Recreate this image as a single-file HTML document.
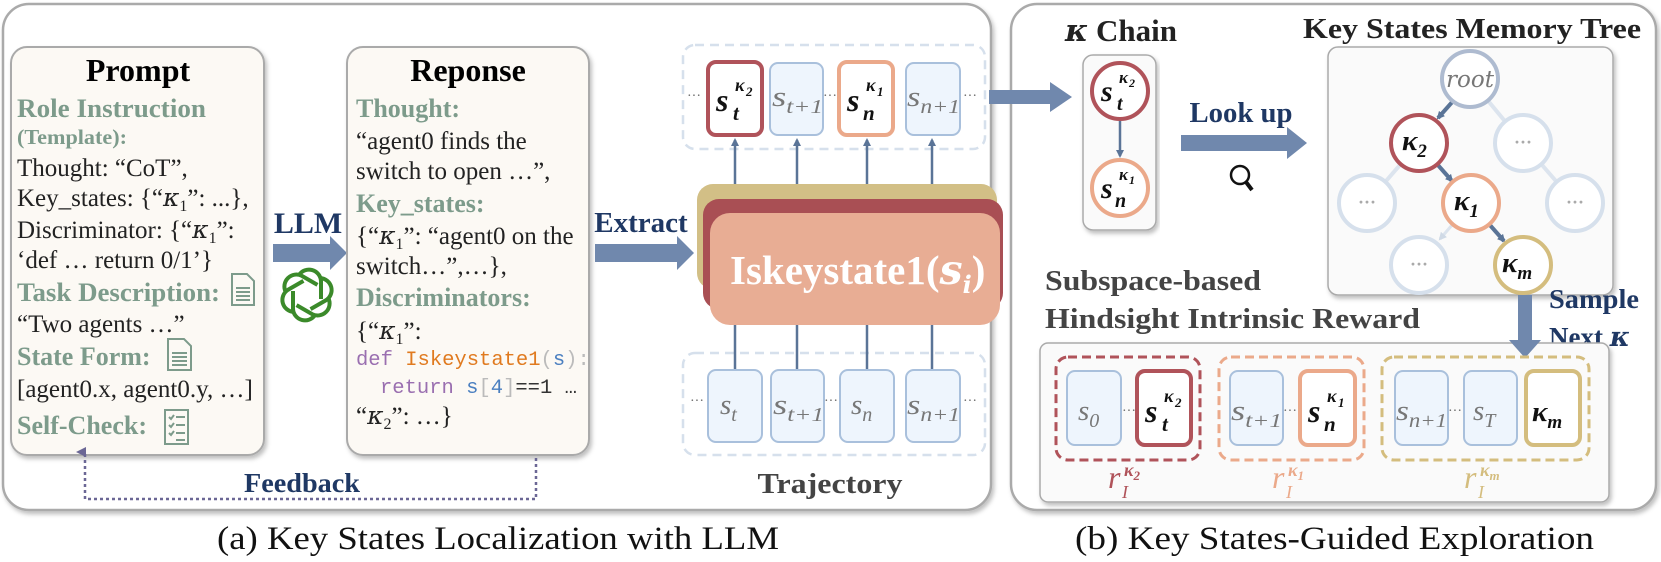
<!DOCTYPE html>
<html><head><meta charset="utf-8"><style>
html,body{margin:0;padding:0;background:#fff;}
svg{display:block;}
text{font-family:"Liberation Serif",serif;}
.m{font-family:"DejaVu Serif","Liberation Serif",serif;font-style:italic;}
.mono{font-family:"Liberation Mono",monospace;}
</style></head><body>
<svg width="1661" height="562" viewBox="0 0 1661 562" xmlns="http://www.w3.org/2000/svg">
<defs>
<filter id="sh" x="-5%" y="-5%" width="110%" height="115%"><feDropShadow dx="2" dy="3" stdDeviation="2" flood-color="#000" flood-opacity="0.25"/></filter>
<marker id="ah" markerWidth="8" markerHeight="8" refX="6" refY="4" orient="auto" markerUnits="userSpaceOnUse"><path d="M0,0 L8,4 L0,8 Z" fill="#5a7497"/></marker>
<marker id="ahl" markerWidth="8" markerHeight="8" refX="6" refY="4" orient="auto" markerUnits="userSpaceOnUse"><path d="M0,0 L8,4 L0,8 Z" fill="#d0dae6"/></marker>
<marker id="ahp" markerWidth="10" markerHeight="10" refX="5" refY="9" orient="auto" markerUnits="userSpaceOnUse"><path d="M0,10 L5,0 L10,10 Z" fill="#6b6795"/></marker>
</defs>

<rect x="3" y="4" width="988" height="506" rx="26" fill="#fff" stroke="#aaa" stroke-width="2.5" filter="url(#sh)"/>
<rect x="1011" y="4" width="645" height="506" rx="26" fill="#fff" stroke="#aaa" stroke-width="2.5" filter="url(#sh)"/>

<rect x="11" y="47" width="253" height="408" rx="16" fill="#fcf9f4" stroke="#aaa" stroke-width="2" filter="url(#sh)"/>
<text x="138" y="81" font-size="32" font-weight="bold" text-anchor="middle">Prompt</text>
<g font-size="26" font-weight="bold" fill="#7d9b8b">
<text x="17" y="117" textLength="189" lengthAdjust="spacingAndGlyphs">Role Instruction</text>
<text x="17" y="144" font-size="21" textLength="110" lengthAdjust="spacingAndGlyphs">(Template):</text>
<text x="17" y="301" textLength="203" lengthAdjust="spacingAndGlyphs">Task Description:</text>
<text x="17" y="365">State Form:</text>
<text x="17" y="434">Self-Check:</text>
</g>
<g font-size="25" fill="#222">
<text x="17" y="176">Thought: “CoT”,</text>
<text x="17" y="206">Key_states: {“<tspan class="m">κ</tspan><tspan font-size="16" dy="5">1</tspan><tspan dy="-5">”: ...},</tspan></text>
<text x="17" y="238">Discriminator: {“<tspan class="m">κ</tspan><tspan font-size="16" dy="5">1</tspan><tspan dy="-5">”:</tspan></text>
<text x="17" y="268">‘def … return 0/1’}</text>
<text x="17" y="332">“Two agents …”</text>
<text x="17" y="397">[agent0.x, agent0.y, …]</text>
</g>
<g fill="none" stroke="#7d9b8b" stroke-width="2">
<path d="M232,274 h15 l7,7 v24 h-22 Z"/><path d="M236,288 h14 M236,292 h14 M236,296 h14 M236,300 h14"/>
<path d="M168,339 h16 l7,7 v24 h-23 Z"/><path d="M172,353 h15 M172,357 h15 M172,361 h15 M172,365 h15"/>
<rect x="165" y="410" width="23" height="34"/><path d="M169,417 l2,2 l3,-4 M176,417 h9 M169,425 l2,2 l3,-4 M176,425 h9 M169,433 l2,2 l3,-4 M176,433 h9 M176,440 h9"/>
</g>

<text x="308" y="233" font-size="30" font-weight="bold" fill="#1f3864" text-anchor="middle">LLM</text>
<polygon points="273,244 330,244 330,236 347,253 330,270 330,262 273,262" fill="#7088ad"/>
<g fill="none" stroke="#3b8a2a" stroke-width="4" transform="translate(307,295)">
<path d="M-8,-20 a12,12 0 0 1 22,6 v18"/>
<path d="M-8,-20 a12,12 0 0 1 22,6 v18" transform="rotate(60)"/>
<path d="M-8,-20 a12,12 0 0 1 22,6 v18" transform="rotate(120)"/>
<path d="M-8,-20 a12,12 0 0 1 22,6 v18" transform="rotate(180)"/>
<path d="M-8,-20 a12,12 0 0 1 22,6 v18" transform="rotate(240)"/>
<path d="M-8,-20 a12,12 0 0 1 22,6 v18" transform="rotate(300)"/>
</g>

<rect x="347" y="47" width="242" height="408" rx="16" fill="#fcf9f4" stroke="#aaa" stroke-width="2" filter="url(#sh)"/>
<text x="468" y="81" font-size="32" font-weight="bold" text-anchor="middle">Reponse</text>
<g font-size="26" font-weight="bold" fill="#7d9b8b">
<text x="356" y="117">Thought:</text>
<text x="356" y="212">Key_states:</text>
<text x="356" y="306">Discriminators:</text>
</g>
<g font-size="25" fill="#222">
<text x="356" y="149">“agent0 finds the</text>
<text x="356" y="179">switch to open …”,</text>
<text x="356" y="244">{“<tspan class="m">κ</tspan><tspan font-size="16" dy="5">1</tspan><tspan dy="-5">”: “agent0 on the</tspan></text>
<text x="356" y="274">switch…”,…},</text>
<text x="356" y="339">{“<tspan class="m">κ</tspan><tspan font-size="16" dy="5">1</tspan><tspan dy="-5">”:</tspan></text>
<text x="356" y="424">“<tspan class="m">κ</tspan><tspan font-size="16" dy="5">2</tspan><tspan dy="-5">”: …}</tspan></text>
</g>
<text x="356" y="365" font-size="20.5" class="mono"><tspan fill="#9a6fb0">def</tspan> <tspan fill="#e07a1f">Iskeystate1</tspan><tspan fill="#bbb">(</tspan><tspan fill="#4a7fc0">s</tspan><tspan fill="#bbb">):</tspan></text>
<text x="380" y="393" font-size="20.5" class="mono"><tspan fill="#9a6fb0">return</tspan> <tspan fill="#4a7fc0">s</tspan><tspan fill="#bbb">[</tspan><tspan fill="#4a7fc0">4</tspan><tspan fill="#bbb">]</tspan><tspan fill="#333">==1 …</tspan></text>

<path d="M536,458 V499 H85 V452" fill="none" stroke="#6b6795" stroke-width="2.5" stroke-dasharray="3,3" marker-end="url(#ahp)"/>
<text x="302" y="492" font-size="27" font-weight="bold" fill="#1f3864" text-anchor="middle" textLength="116" lengthAdjust="spacingAndGlyphs">Feedback</text>

<text x="641" y="232" font-size="29" font-weight="bold" fill="#1f3864" text-anchor="middle">Extract</text>
<polygon points="595,244 677,244 677,236 694,253 677,270 677,262 595,262" fill="#7088ad"/>

<rect x="683" y="45" width="302" height="104" rx="12" fill="none" stroke="#d6e0ec" stroke-width="2.5" stroke-dasharray="9,6"/>
<rect x="683" y="353" width="302" height="102" rx="12" fill="none" stroke="#d6e0ec" stroke-width="2.5" stroke-dasharray="9,6"/>

<g stroke="#5a7497" stroke-width="2.5">
<line x1="735" y1="185" x2="735" y2="140" marker-end="url(#ah)"/>
<line x1="797" y1="185" x2="797" y2="140" marker-end="url(#ah)"/>
<line x1="867" y1="185" x2="867" y2="140" marker-end="url(#ah)"/>
<line x1="932" y1="185" x2="932" y2="140" marker-end="url(#ah)"/>
<line x1="735" y1="320" x2="735" y2="370"/>
<line x1="797" y1="320" x2="797" y2="370"/>
<line x1="867" y1="320" x2="867" y2="370"/>
<line x1="932" y1="320" x2="932" y2="370"/>
</g>

<rect x="708" y="62" width="54" height="73" rx="8" fill="#fff" stroke="#b0535a" stroke-width="4"/>
<rect x="770" y="63" width="53" height="72" rx="8" fill="#eef5fd" stroke="#a9c0dc" stroke-width="2"/>
<rect x="839" y="62" width="54" height="73" rx="8" fill="#fff" stroke="#eba98a" stroke-width="4"/>
<rect x="906" y="63" width="54" height="72" rx="8" fill="#eef5fd" stroke="#a9c0dc" stroke-width="2"/>
<g font-size="14" fill="#666"><text x="687" y="100">···</text><text x="823" y="100">···</text><text x="963" y="100">···</text></g>
<g class="m" font-weight="bold" fill="#111">
<text x="716" y="111" font-size="32">s</text><text x="735" y="91" font-size="18">κ</text><text x="746" y="96" font-size="13">2</text><text x="733" y="120" font-size="21">t</text>
<text x="847" y="111" font-size="32">s</text><text x="866" y="91" font-size="18">κ</text><text x="877" y="96" font-size="13">1</text><text x="863" y="120" font-size="21">n</text>
</g>
<g class="m" fill="#777">
<text x="772" y="106" font-size="29" textLength="51" lengthAdjust="spacingAndGlyphs">s<tspan font-size="20" dy="7">t+1</tspan></text>
<text x="907" y="106" font-size="29" textLength="53" lengthAdjust="spacingAndGlyphs">s<tspan font-size="20" dy="7">n+1</tspan></text>
</g>

<rect x="697" y="184" width="300" height="105" rx="16" fill="#d2bf86"/>
<rect x="703" y="199" width="300" height="110" rx="16" fill="#a94f54"/>
<rect x="710" y="213" width="290" height="112" rx="20" fill="#e8ad94"/>
<text x="730" y="284" font-size="41" font-weight="bold" fill="#fff">Iskeystate1(<tspan class="m">s</tspan><tspan class="m" font-size="24" dy="9">i</tspan><tspan dy="-9">)</tspan></text>

<g fill="#eef5fd" stroke="#a9c0dc" stroke-width="2">
<rect x="708" y="370" width="54" height="72" rx="8"/>
<rect x="771" y="370" width="53" height="72" rx="8"/>
<rect x="840" y="370" width="54" height="72" rx="8"/>
<rect x="906" y="370" width="54" height="72" rx="8"/>
</g>
<g font-size="14" fill="#666"><text x="690" y="405">···</text><text x="824" y="405">···</text><text x="963" y="405">···</text></g>
<g class="m" fill="#777" font-size="29">
<text x="720" y="414">s<tspan font-size="20" dy="7">t</tspan></text>
<text x="773" y="414" textLength="51" lengthAdjust="spacingAndGlyphs">s<tspan font-size="20" dy="7">t+1</tspan></text>
<text x="851" y="414">s<tspan font-size="20" dy="7">n</tspan></text>
<text x="907" y="414" textLength="53" lengthAdjust="spacingAndGlyphs">s<tspan font-size="20" dy="7">n+1</tspan></text>
</g>
<text x="830" y="493" font-size="29" font-weight="bold" fill="#444" text-anchor="middle" textLength="145" lengthAdjust="spacingAndGlyphs">Trajectory</text>

<polygon points="989,90 1050,90 1050,82 1072,97 1050,112 1050,104 989,104" fill="#7088ad"/>

<text x="1065" y="41" font-size="31" font-weight="bold" fill="#222" textLength="112" lengthAdjust="spacingAndGlyphs"><tspan class="m">κ</tspan> Chain</text>
<rect x="1083" y="55" width="73" height="175" rx="10" fill="#fafafa" stroke="#aaa" stroke-width="1.5" filter="url(#sh)"/>
<line x1="1120" y1="118" x2="1120" y2="156" stroke="#5a7497" stroke-width="2.5" marker-end="url(#ah)"/>
<circle cx="1120" cy="91" r="28" fill="#fff" stroke="#b0535a" stroke-width="4"/>
<circle cx="1120" cy="188" r="28" fill="#fff" stroke="#eba98a" stroke-width="4"/>
<g class="m" font-weight="bold" fill="#111">
<text x="1101" y="101" font-size="30">s</text><text x="1119" y="83" font-size="17">κ</text><text x="1129" y="87" font-size="12">2</text><text x="1117" y="110" font-size="20">t</text>
<text x="1101" y="198" font-size="30">s</text><text x="1119" y="180" font-size="17">κ</text><text x="1129" y="184" font-size="12">1</text><text x="1115" y="207" font-size="20">n</text>
</g>

<text x="1241" y="122" font-size="29" font-weight="bold" fill="#1f3864" text-anchor="middle" textLength="103" lengthAdjust="spacingAndGlyphs">Look up</text>
<polygon points="1181,135 1287,135 1287,127 1307,143 1287,159 1287,151 1181,151" fill="#7088ad"/>
<circle cx="1240" cy="175" r="9" fill="none" stroke="#111" stroke-width="2.5"/>
<line x1="1246" y1="182" x2="1252" y2="190" stroke="#111" stroke-width="4"/>

<text x="1472" y="38" font-size="29" font-weight="bold" fill="#222" text-anchor="middle" textLength="338" lengthAdjust="spacingAndGlyphs">Key States Memory Tree</text>
<rect x="1328" y="47" width="285" height="248" rx="10" fill="#fafafa" stroke="#aaa" stroke-width="1.5" filter="url(#sh)"/>
<g stroke="#dce4ee" stroke-width="4">
<line x1="1470" y1="79" x2="1523" y2="143"/>
<line x1="1419" y1="143" x2="1367" y2="203"/>
<line x1="1523" y1="143" x2="1575" y2="203"/>
</g>
<line x1="1471" y1="203" x2="1440" y2="239" stroke="#dce4ee" stroke-width="3" marker-end="url(#ahl)"/>
<g stroke="#5a7497" stroke-width="4">
<line x1="1454" y1="100" x2="1438" y2="118" marker-end="url(#ah)"/>
<line x1="1437" y1="164" x2="1452" y2="181" marker-end="url(#ah)"/>
<line x1="1489" y1="224" x2="1504" y2="241" marker-end="url(#ah)"/>
</g>
<g fill="#fff" stroke="#d6e0ec" stroke-width="4">
<circle cx="1523" cy="143" r="28"/><circle cx="1367" cy="203" r="28"/><circle cx="1575" cy="203" r="28"/><circle cx="1419" cy="265" r="28"/>
</g>
<g font-size="18" fill="#aaa" text-anchor="middle" font-weight="bold"><text x="1523" y="148">···</text><text x="1367" y="208">···</text><text x="1575" y="208">···</text><text x="1419" y="270">···</text></g>
<circle cx="1470" cy="79" r="28" fill="#fff" stroke="#aebbd0" stroke-width="4"/>
<text x="1470" y="87" class="m" font-size="23" fill="#777" text-anchor="middle">root</text>
<circle cx="1419" cy="143" r="28" fill="#fff" stroke="#b0535a" stroke-width="4"/>
<circle cx="1471" cy="203" r="28" fill="#fff" stroke="#eba98a" stroke-width="4"/>
<circle cx="1523" cy="265" r="28" fill="#fff" stroke="#d4bd7e" stroke-width="4"/>
<g class="m" font-weight="bold" fill="#111" font-size="29">
<text x="1402" y="150">κ<tspan font-size="19" dy="7">2</tspan></text>
<text x="1454" y="210">κ<tspan font-size="19" dy="7">1</tspan></text>
<text x="1502" y="272">κ<tspan font-size="19" dy="7">m</tspan></text>
</g>

<g font-size="29" font-weight="bold" fill="#444">
<text x="1045" y="290" textLength="216" lengthAdjust="spacingAndGlyphs">Subspace-based</text>
<text x="1045" y="328" textLength="375" lengthAdjust="spacingAndGlyphs">Hindsight Intrinsic Reward</text>
</g>
<g font-size="27" font-weight="bold" fill="#1f3864">
<text x="1549" y="308" textLength="90" lengthAdjust="spacingAndGlyphs">Sample</text>
<text x="1549" y="346" textLength="81" lengthAdjust="spacingAndGlyphs">Next <tspan class="m">κ</tspan></text>
</g>

<rect x="1040" y="343" width="569" height="159" rx="8" fill="#fafafa" stroke="#aaa" stroke-width="1.5" filter="url(#sh)"/>
<polygon points="1518,295 1532,295 1532,340 1541,340 1525,358 1509,340 1518,340" fill="#7088ad"/>
<rect x="1056" y="357" width="144" height="103" rx="12" fill="none" stroke="#b0535a" stroke-width="3" stroke-dasharray="9,5"/>
<rect x="1219" y="357" width="145" height="103" rx="12" fill="none" stroke="#eba98a" stroke-width="3" stroke-dasharray="9,5"/>
<rect x="1382" y="357" width="207" height="103" rx="12" fill="none" stroke="#d4bd7e" stroke-width="3" stroke-dasharray="9,5"/>
<g fill="#eef5fd" stroke="#a9c0dc" stroke-width="2">
<rect x="1067" y="371" width="54" height="74" rx="8"/>
<rect x="1230" y="371" width="53" height="74" rx="8"/>
<rect x="1395" y="371" width="53" height="74" rx="8"/>
<rect x="1464" y="371" width="53" height="74" rx="8"/>
</g>
<rect x="1137" y="371" width="54" height="74" rx="8" fill="#fff" stroke="#b0535a" stroke-width="4"/>
<rect x="1300" y="371" width="55" height="74" rx="8" fill="#fff" stroke="#eba98a" stroke-width="4"/>
<rect x="1526" y="371" width="54" height="74" rx="8" fill="#fff" stroke="#d4bd7e" stroke-width="4"/>
<g font-size="14" fill="#666"><text x="1122" y="415">···</text><text x="1283" y="415">···</text><text x="1448" y="415">···</text></g>
<g class="m" fill="#777" font-size="29">
<text x="1078" y="420">s<tspan font-size="20" dy="7">0</tspan></text>
<text x="1231" y="420" textLength="51" lengthAdjust="spacingAndGlyphs">s<tspan font-size="20" dy="7">t+1</tspan></text>
<text x="1396" y="420" textLength="51" lengthAdjust="spacingAndGlyphs">s<tspan font-size="20" dy="7">n+1</tspan></text>
<text x="1473" y="420">s<tspan font-size="20" dy="7">T</tspan></text>
</g>
<g class="m" font-weight="bold" fill="#111">
<text x="1145" y="422" font-size="32">s</text><text x="1164" y="402" font-size="18">κ</text><text x="1175" y="407" font-size="13">2</text><text x="1162" y="431" font-size="21">t</text>
<text x="1308" y="422" font-size="32">s</text><text x="1327" y="402" font-size="18">κ</text><text x="1338" y="407" font-size="13">1</text><text x="1324" y="431" font-size="21">n</text>
<text x="1532" y="421" font-size="29">κ<tspan font-size="19" dy="7">m</tspan></text>
</g>
<g class="m">
<g fill="#b0535a"><text x="1108" y="488" font-size="32">r</text><text x="1122" y="498" font-size="18">I</text><text x="1124" y="476" font-size="18" font-weight="bold">κ<tspan font-size="13" dy="4">2</tspan></text></g>
<g fill="#eba98a"><text x="1272" y="488" font-size="32">r</text><text x="1286" y="498" font-size="18">I</text><text x="1288" y="476" font-size="18" font-weight="bold">κ<tspan font-size="13" dy="4">1</tspan></text></g>
<g fill="#d4bd7e"><text x="1464" y="488" font-size="32">r</text><text x="1478" y="498" font-size="18">I</text><text x="1480" y="476" font-size="18" font-weight="bold">κ<tspan font-size="13" dy="4">m</tspan></text></g>
</g>

<text x="217" y="549" font-size="33" fill="#111" textLength="562" lengthAdjust="spacingAndGlyphs">(a) Key States Localization with LLM</text>
<text x="1075" y="549" font-size="33" fill="#111" textLength="519" lengthAdjust="spacingAndGlyphs">(b) Key States-Guided Exploration</text>
</svg>
</body></html>
